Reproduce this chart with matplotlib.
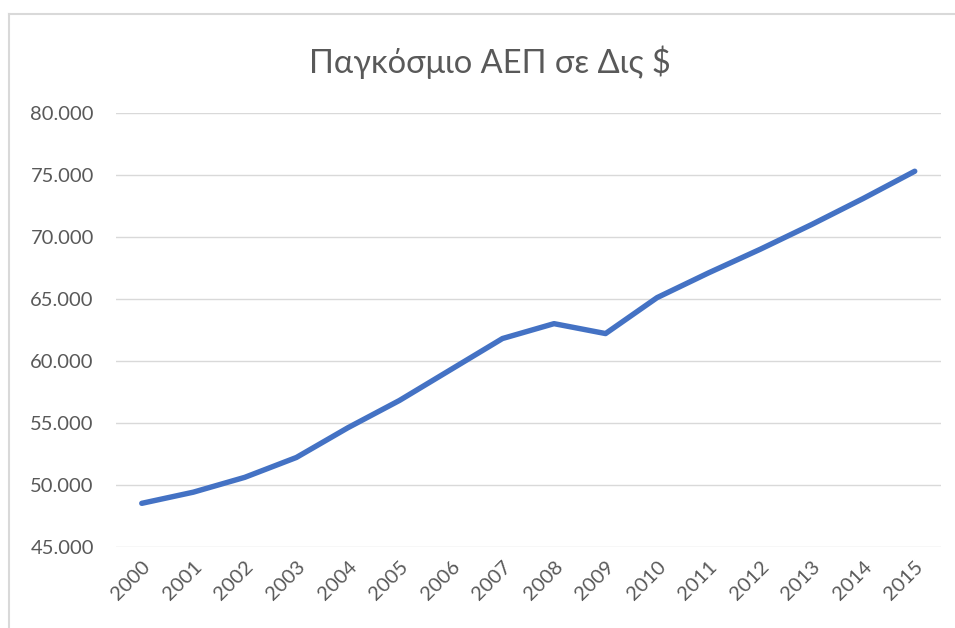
import matplotlib
matplotlib.use("Agg")
import matplotlib.pyplot as plt
from matplotlib.lines import Line2D
from matplotlib.ticker import FuncFormatter, MultipleLocator

years = ["2000", "2001", "2002", "2003", "2004", "2005", "2006", "2007",
         "2008", "2009", "2010", "2011", "2012", "2013", "2014", "2015"]
gdp = [48500, 49400, 50600, 52200, 54600, 56800, 59300, 61800,
       63000, 62200, 65100, 67100, 69000, 71000, 73100, 75300]
title = "Παγκόσμιο ΑΕΠ σε Δις $"

W, H = 955, 628
fig = plt.figure(figsize=(W / 100, H / 100), dpi=100)
fig.patch.set_facecolor("white")

left, right, top, bottom = 116, 940.5, 113, 546.7
ax = fig.add_axes([left / W, 1 - bottom / H, (right - left) / W, (bottom - top) / H])

x = list(range(len(years)))
ax.plot(x, gdp, color="#4472C4", linewidth=3.9, solid_capstyle="round",
        solid_joinstyle="round", zorder=3)

ax.set_xlim(-0.5, len(years) - 0.5)
ax.set_ylim(45000, 80000)
ax.yaxis.set_major_locator(MultipleLocator(5000))
ax.yaxis.set_major_formatter(FuncFormatter(lambda v, p: f"{int(v):,}".replace(",", ".")))
ax.grid(axis="y", color="#D9D9D9", linewidth=1.0, zorder=0)
ax.grid(axis="x", visible=False)
for s in ax.spines.values():
    s.set_visible(False)

font = "Lato"
ax.set_xticks(x)
ax.set_xticklabels(years, rotation=45, ha="right", va="top", rotation_mode="anchor",
                   fontsize=14.5, color="#595959", family=font)
for lab in ax.get_yticklabels():
    lab.set_fontsize(14.5)
    lab.set_color("#595959")
    lab.set_family(font)
ax.tick_params(axis="both", length=0)
ax.tick_params(axis="y", pad=16)
ax.tick_params(axis="x", pad=8)

fig.text(489.5 / W, 1 - 62 / H, title, ha="center", va="center", fontsize=23.5,
         color="#595959", family=font)

# chart border (top and left visible)
fig.add_artist(Line2D([9 / W, 1.0], [1 - 14 / H, 1 - 14 / H], transform=fig.transFigure,
                      color="#D9D9D9", linewidth=1.5))
fig.add_artist(Line2D([9 / W, 9 / W], [0, 1 - 14 / H], transform=fig.transFigure,
                      color="#D9D9D9", linewidth=1.5))

fig.savefig("out.png", dpi=100, facecolor="white")
